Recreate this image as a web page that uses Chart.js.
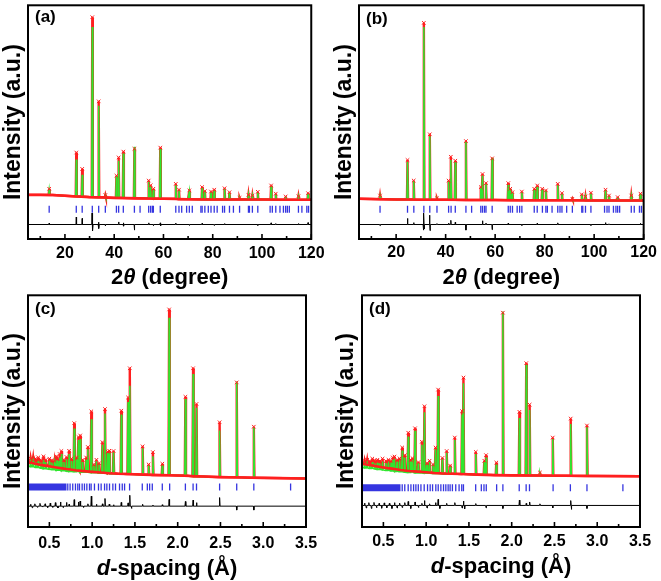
<!DOCTYPE html>
<html><head><meta charset="utf-8">
<script src="https://cdn.jsdelivr.net/npm/chart.js@4.4.1/dist/chart.umd.min.js"></script>
<style>
html,body{margin:0;padding:0;background:#fff;}
#wrap{position:relative;width:661px;height:581px;overflow:hidden;background:#fff;}
canvas{position:absolute;}
</style></head><body>
<div id="wrap">
<canvas id="ca" width="330" height="290" style="left:0px;top:0px"></canvas>
<canvas id="cb" width="331" height="290" style="left:330px;top:0px"></canvas>
<canvas id="cc" width="330" height="291" style="left:0px;top:290px"></canvas>
<canvas id="cd" width="331" height="291" style="left:330px;top:290px"></canvas>
</div>
<script>
// ---------- tick labels ----------
const abTickVals = [20, 40, 60, 80, 100, 120];
const abTickLabels = ['20', '40', '60', '80', '100', '120'];
const abMinor = [10, 30, 50, 70, 90, 110];
const cdTickVals = [0.5, 1.0, 1.5, 2.0, 2.5, 3.0, 3.5];
const cdTickLabels = ['0.5', '1.0', '1.5', '2.0', '2.5', '3.0', '3.5'];
const cdMinor = [0.75, 1.25, 1.75, 2.25, 2.75, 3.25];

// ---------- panel (a) ----------
const aBgX = [5, 10, 15, 20, 25, 30, 35, 40, 50, 60, 70, 80, 90, 100, 110, 120];
const aBgObs = [18.9, 18.9, 18.8, 18.5, 18.2, 17.9, 17.8, 17.6, 17.4, 17.2, 17.0, 16.9, 16.9, 16.9, 16.8, 16.8];
const aPeakPos = [13.6, 24.6, 27.0, 31.1, 33.7, 36.4, 40.9, 41.8, 43.7, 48.2, 54.0, 54.8, 55.9, 58.7, 65.0, 66.3, 70.5, 75.7, 76.8, 79.3, 80.6, 84.8, 86.8, 90.9, 94.5, 96.1, 98.3, 103.7, 105.6, 109.6, 114.8, 118.7];
const aObsTop = [21.5, 37.0, 30.0, 94.9, 58.9, 18.8, 27.1, 34.9, 37.4, 38.6, 25.0, 23.0, 21.5, 39.1, 23.6, 21.1, 20.8, 22.2, 20.5, 20.3, 21.1, 21.7, 20.0, 17.6, 18.9, 18.6, 20.2, 22.9, 19.4, 18.2, 18.3, 19.6];
const aCalcTop = [21.0, 34.0, 27.5, 90.7, 57.0, 18.6, 27.0, 33.5, 36.6, 39.5, 24.5, 22.5, 21.0, 38.5, 23.0, 20.8, 20.5, 21.8, 20.3, 20.0, 20.8, 21.4, 19.8, 17.5, 18.8, 18.5, 20.0, 22.5, 19.2, 18.1, 18.2, 19.4];
const aBragg = [13.6, 24.6, 27.0, 31.1, 33.7, 36.4, 40.9, 41.8, 43.7, 48.2, 50.5, 54.0, 54.8, 55.5, 55.9, 58.7, 65.0, 66.3, 67.4, 69.4, 70.5, 71.7, 75.2, 75.7, 76.8, 78.2, 79.3, 80.6, 81.8, 84.0, 84.8, 86.8, 88.4, 90.9, 94.5, 94.9, 96.1, 98.3, 103.3, 104.2, 105.6, 107.3, 108.7, 109.6, 110.3, 111.1, 114.8, 116.2, 118.2, 118.9];
const aBraggY = 12.7;
const aDiffBase = 6.2;
const aDiffPos = [13.6, 24.6, 27.0, 31.0, 31.3, 33.6, 33.8, 36.4, 41.8, 43.7, 43.9, 48.2, 54.0, 55.9, 58.7, 58.9, 65.0, 70.5, 75.7, 80.6, 84.8, 98.3, 103.7, 105.6, 114.8, 118.7];
const aDiffVal = [6.8, 9.4, 8.8, 11.1, 3.5, 7.2, 4.5, 5.6, 7.3, 6.9, 5.5, 3.8, 6.9, 5.7, 6.9, 5.6, 6.8, 5.8, 6.7, 5.8, 6.6, 5.8, 6.9, 6.6, 6.6, 7.0];

// ---------- panel (b) ----------
const bBgX = [5, 10, 15, 20, 25, 30, 35, 40, 50, 60, 70, 80, 90, 100, 110, 120];
const bBgObs = [17.2, 17.1, 17.0, 16.9, 16.9, 16.8, 16.8, 16.8, 16.7, 16.7, 16.6, 16.6, 16.6, 16.5, 16.5, 16.5];
const bPeakPos = [13.5, 24.6, 27.1, 31.2, 33.6, 36.5, 41.2, 42.1, 43.9, 48.2, 54.2, 54.9, 56.3, 58.8, 65.3, 66.1, 67.0, 70.8, 75.8, 77.0, 79.0, 80.5, 85.3, 87.0, 91.2, 95.0, 96.5, 98.7, 104.6, 106.0, 109.5, 115.0, 118.7];
const bObsTop = [18.6, 33.8, 25.0, 92.5, 44.8, 17.4, 25.0, 35.2, 33.5, 41.9, 22.2, 27.8, 23.9, 34.5, 23.9, 21.5, 20.0, 20.3, 21.5, 22.9, 21.5, 20.8, 23.6, 19.6, 17.2, 19.1, 18.2, 19.8, 21.1, 18.6, 17.9, 18.6, 19.4];
const bCalcTop = [18.4, 33.0, 24.8, 90.7, 44.0, 17.3, 24.6, 33.8, 32.8, 41.5, 22.0, 27.2, 23.5, 34.8, 23.2, 21.2, 19.8, 20.0, 21.0, 22.3, 21.2, 20.5, 23.0, 19.4, 17.1, 18.9, 18.0, 19.6, 20.8, 18.4, 17.8, 18.4, 19.2];
const bBragg = [13.5, 24.6, 27.15, 31.2, 33.6, 36.5, 41.2, 42.2, 43.9, 48.2, 50.5, 54.2, 54.9, 55.7, 56.3, 58.8, 65.3, 66.1, 67.0, 68.9, 69.9, 70.8, 75.8, 77.0, 79.1, 80.5, 81.1, 83.0, 85.3, 86.2, 87.0, 88.9, 91.2, 95.0, 95.4, 96.5, 98.7, 104.2, 105.2, 106.0, 107.8, 108.8, 109.5, 110.3, 115.0, 116.2, 118.3, 119.1];
const bBraggY = 12.7;
const bDiffBase = 6.2;
const bDiffPos = [13.5, 24.6, 27.1, 31.0, 31.2, 31.4, 33.5, 33.7, 36.5, 41.2, 42.1, 43.9, 48.2, 54.9, 56.3, 58.8, 65.3, 70.8, 77.0, 85.3, 98.7, 104.6, 106.0, 118.7];
const bDiffVal = [5.7, 8.8, 7.0, 3.8, 11.1, 4.3, 10.2, 3.6, 6.6, 6.8, 8.0, 7.2, 3.8, 7.8, 6.8, 4.0, 6.8, 5.8, 6.7, 6.9, 5.8, 7.0, 6.5, 6.7];

// ---------- panel (c) ----------
const cBgX = [0.25, 0.3, 0.35, 0.4, 0.45, 0.5, 0.55, 0.6, 0.65, 0.7, 0.75, 0.8, 0.9, 1.0, 1.1, 1.2, 1.3, 1.4, 1.6, 1.8, 2.0, 2.3, 2.6, 3.0, 3.5];
const cBgObs = [28.0, 27.6, 27.2, 26.8, 26.5, 26.2, 25.9, 25.6, 25.3, 25.0, 24.8, 24.5, 24.1, 23.8, 23.5, 23.2, 23.0, 22.9, 22.6, 22.4, 22.2, 21.8, 21.5, 21.2, 20.9];
const cBgCalc = [26.3, 26.0, 25.7, 25.4, 25.1, 24.9, 24.7, 24.5, 24.3, 24.1, 23.9, 23.8, 23.6, 23.4, 23.2, 23.0, 22.9, 22.8, 22.6, 22.4, 22.2, 21.8, 21.5, 21.2, 20.9];
const cPeakPos = [0.28, 0.31, 0.34, 0.37, 0.40, 0.43, 0.46, 0.50, 0.53, 0.56, 0.58, 0.60, 0.62, 0.64, 0.67, 0.70, 0.73, 0.76, 0.79, 0.82, 0.84, 0.86, 0.89, 0.93, 0.95, 0.99, 1.02, 1.05, 1.08, 1.12, 1.15, 1.18, 1.20, 1.25, 1.34, 1.42, 1.44, 1.59, 1.66, 1.71, 1.82, 1.90, 2.09, 2.18, 2.22, 2.49, 2.69, 2.89];
const cObsTop = [29.5, 30.0, 29.5, 30.0, 29.0, 30.5, 29.0, 29.5, 28.8, 28.5, 30.5, 29.5, 31.5, 32.8, 29.0, 30.2, 32.9, 29.5, 44.8, 30.0, 38.8, 39.5, 29.0, 30.0, 34.5, 49.9, 27.0, 29.0, 27.5, 36.6, 50.9, 32.5, 32.9, 32.8, 50.2, 55.9, 68.5, 34.8, 27.0, 32.3, 27.3, 93.9, 56.2, 68.5, 53.1, 45.2, 62.4, 43.3];
const cCalcTop = [28.0, 28.5, 28.0, 28.6, 27.8, 28.8, 28.0, 28.6, 27.8, 27.8, 29.0, 28.6, 30.0, 31.5, 28.0, 29.2, 31.5, 28.5, 42.5, 29.0, 37.5, 38.0, 28.0, 29.0, 33.5, 46.5, 26.5, 28.5, 27.0, 35.5, 49.0, 32.0, 32.0, 32.3, 48.5, 54.0, 61.0, 34.0, 26.5, 30.5, 26.5, 90.3, 55.2, 66.0, 51.5, 41.6, 62.8, 43.0];
const cBand = [0.25, 0.70];
const cBragg = [0.715, 0.742, 0.773, 0.805, 0.832, 0.852, 0.883, 0.910, 0.938, 0.969, 0.988, 1.027, 1.074, 1.105, 1.145, 1.172, 1.203, 1.242, 1.273, 1.32, 1.352, 1.379, 1.4375, 1.586, 1.645, 1.672, 1.703, 1.82, 1.906, 2.09, 2.18, 2.22, 2.49, 2.69, 2.89, 3.32];
const cBraggY = 17.3;
const cDiffBase = 9.0;
const cDiffPos = [0.28, 0.30, 0.33, 0.36, 0.39, 0.42, 0.45, 0.48, 0.51, 0.54, 0.57, 0.60, 0.63, 0.66, 0.70, 0.73, 0.79, 0.84, 0.86, 0.90, 0.95, 0.99, 1.05, 1.12, 1.15, 1.20, 1.25, 1.34, 1.42, 1.44, 1.46, 1.59, 1.71, 1.82, 1.90, 2.09, 2.18, 2.22, 2.49, 2.69, 2.89];
const cDiffVal = [9.8, 8.3, 10.0, 8.5, 10.2, 8.6, 10.0, 8.4, 10.3, 8.5, 10.5, 8.2, 10.8, 8.4, 10.6, 9.8, 11.8, 10.8, 11.2, 8.5, 10.0, 13.3, 9.8, 10.0, 12.3, 9.9, 9.6, 10.6, 10.4, 13.7, 8.0, 9.8, 9.5, 9.6, 11.9, 11.0, 11.6, 10.5, 12.7, 7.3, 7.3];

// ---------- panel (d) ----------
const dBgX = [0.25, 0.3, 0.35, 0.4, 0.45, 0.5, 0.55, 0.6, 0.65, 0.7, 0.75, 0.8, 0.9, 1.0, 1.1, 1.2, 1.3, 1.4, 1.6, 1.8, 2.0, 2.3, 2.6, 3.0, 3.5];
const dBgObs = [27.4, 27.0, 26.7, 26.3, 26.0, 25.7, 25.4, 25.2, 24.9, 24.6, 24.4, 24.2, 23.9, 23.6, 23.3, 23.1, 23.0, 22.9, 22.6, 22.4, 22.3, 22.2, 22.1, 22.0, 21.9];
const dBgCalc = [25.8, 25.5, 25.3, 25.0, 24.8, 24.6, 24.4, 24.2, 24.0, 23.8, 23.6, 23.5, 23.3, 23.2, 23.1, 23.0, 22.9, 22.8, 22.6, 22.4, 22.3, 22.2, 22.1, 22.0, 21.9];
const dPeakPos = [0.28, 0.31, 0.34, 0.37, 0.40, 0.43, 0.46, 0.49, 0.53, 0.56, 0.59, 0.61, 0.63, 0.66, 0.69, 0.72, 0.75, 0.79, 0.82, 0.84, 0.87, 0.91, 0.95, 0.98, 1.01, 1.04, 1.08, 1.11, 1.14, 1.19, 1.24, 1.28, 1.335, 1.42, 1.436, 1.58, 1.68, 1.70, 1.82, 1.897, 2.09, 2.17, 2.21, 2.33, 2.48, 2.69, 2.88];
const dObsTop = [28.5, 29.0, 28.5, 29.5, 28.8, 29.0, 28.5, 29.5, 28.5, 29.0, 28.6, 30.0, 30.4, 29.0, 29.6, 34.3, 31.0, 40.7, 29.0, 29.7, 42.6, 28.0, 36.8, 52.1, 27.5, 28.6, 27.0, 34.3, 59.3, 29.8, 32.8, 26.5, 38.6, 50.0, 64.5, 32.4, 28.6, 31.0, 27.8, 92.5, 49.7, 70.7, 52.8, 23.5, 38.6, 46.8, 43.8];
const dCalcTop = [27.0, 27.5, 27.2, 28.0, 27.5, 27.8, 27.5, 28.3, 27.6, 28.2, 27.8, 29.0, 29.5, 28.2, 28.8, 33.0, 30.0, 39.0, 28.3, 29.0, 41.5, 27.5, 35.5, 49.5, 27.0, 28.0, 26.6, 33.5, 56.5, 29.2, 32.0, 26.2, 37.5, 48.5, 62.0, 31.5, 28.0, 30.0, 27.0, 93.0, 47.0, 70.0, 50.5, 23.3, 38.0, 44.5, 43.0];
const dBand = [0.25, 0.70];
const dBragg = [0.72, 0.75, 0.79, 0.822, 0.853, 0.880, 0.908, 0.939, 0.977, 1.016, 1.047, 1.075, 1.113, 1.141, 1.172, 1.203, 1.230, 1.257, 1.280, 1.307, 1.346, 1.385, 1.416, 1.436, 1.579, 1.645, 1.676, 1.703, 1.824, 1.897, 2.088, 2.169, 2.208, 2.484, 2.686, 2.880, 3.30];
const dBraggY = 16.9;
const dDiffBase = 9.3;
const dDiffPos = [0.28, 0.30, 0.33, 0.36, 0.39, 0.42, 0.45, 0.48, 0.51, 0.54, 0.57, 0.60, 0.63, 0.66, 0.69, 0.72, 0.75, 0.79, 0.82, 0.87, 0.91, 0.95, 0.98, 1.01, 1.04, 1.11, 1.14, 1.16, 1.24, 1.335, 1.42, 1.436, 1.45, 1.58, 1.70, 1.897, 2.09, 2.17, 2.21, 2.33, 2.48, 2.69, 2.70, 2.88];
const dDiffVal = [10.3, 8.2, 10.5, 8.0, 10.6, 8.3, 10.2, 8.1, 10.4, 8.3, 10.2, 8.0, 10.5, 8.2, 10.3, 8.4, 10.5, 11.0, 8.0, 10.8, 8.4, 10.2, 11.4, 8.2, 10.0, 10.5, 11.9, 8.0, 10.2, 10.5, 8.2, 11.2, 7.8, 10.1, 8.3, 8.0, 11.6, 10.2, 10.8, 10.0, 8.2, 11.4, 7.6, 8.0];

// ---------- drawing ----------
Chart.defaults.font.family = '"Liberation Sans", Arial, sans-serif';
Chart.defaults.color = '#000';
const RED = '#ff1f1f', GREEN = '#2fe62f', BLUE = '#3535e0', BLACK = '#000000';
const FAM = '"Liberation Sans", Arial, sans-serif';

function nearestBg(bx, by, x) {
  let k = 0;
  for (let i = 1; i < bx.length; i++) if (Math.abs(bx[i] - x) < Math.abs(bx[k] - x)) k = i;
  return by[k];
}
function profile(bx, by, pos, top, w) {
  const pts = [];
  bx.forEach((x, i) => { if (!pos.some(p => Math.abs(p - x) <= w)) pts.push({x: x, y: by[i]}); });
  pos.forEach((p, i) => {
    const b = nearestBg(bx, by, p);
    pts.push({x: p - w, y: b}, {x: p, y: top[i]}, {x: p + w, y: b});
  });
  return pts.sort((a, b) => a.x - b.x);
}
function diffLine(base, xmin, xmax, pos, val, w) {
  const pts = [{x: xmin, y: base}];
  pos.forEach((p, i) => pts.push({x: p - w, y: base}, {x: p, y: val[i]}, {x: p + w, y: base}));
  pts.push({x: xmax, y: base});
  return pts.sort((a, b) => a.x - b.x);
}

const decor = {
  id: 'decor',
  afterDraw(chart, args, o) {
    const {ctx, chartArea: a} = chart;
    const x = chart.scales.x;
    ctx.save();
    ctx.strokeStyle = '#000';
    ctx.lineWidth = 1.6;
    o.major.forEach(v => { const px = x.getPixelForValue(v); ctx.beginPath(); ctx.moveTo(px, a.bottom); ctx.lineTo(px, a.bottom - 5); ctx.stroke(); });
    o.minor.forEach(v => { const px = x.getPixelForValue(v); ctx.beginPath(); ctx.moveTo(px, a.bottom); ctx.lineTo(px, a.bottom - 3); ctx.stroke(); });
    ctx.lineWidth = 2;
    ctx.strokeRect(a.left, a.top, a.right - a.left, a.bottom - a.top);
    ctx.fillStyle = '#000';
    ctx.textBaseline = 'top';
    ctx.textAlign = 'left';
    ctx.font = 'bold 17px ' + FAM;
    ctx.fillText(o.label, a.left + 7, a.top + o.labelDy);
    // x-axis title with mixed styles
    ctx.textBaseline = 'middle';
    let total = 0;
    o.title.forEach(p => { ctx.font = p[1] + ' 22px ' + FAM; total += ctx.measureText(p[0]).width; });
    let cx = (a.left + a.right) / 2 - total / 2;
    const cy = chart.height - o.titleOff;
    o.title.forEach(p => { ctx.font = p[1] + ' 22px ' + FAM; ctx.fillText(p[0], cx, cy); cx += ctx.measureText(p[0]).width; });
    ctx.restore();
  }
};

function makePanel(c) {
  const w = c.w;
  const obsFull = profile(c.bgX, c.bgObs, c.peakPos, c.obsTop, w);
  const calc = profile(c.bgX, c.bgCalc, c.peakPos, c.calcTop, w);
  const obsBase = c.bgX.map((x, i) => ({x: x, y: c.bgObs[i]}));
  const marks = c.peakPos.map((x, i) => ({x: x, y: c.obsTop[i]}));
  const bragg = c.bragg.map(x => ({x: x, y: c.braggY}));
  const diff = diffLine(c.diffBase, c.xmin, c.xmax, c.diffPos, c.diffVal, c.dw);
  const datasets = [
    {label: 'Difference', data: diff, showLine: true, borderColor: BLACK, borderWidth: 1, pointRadius: 0, order: 1},
    {label: 'Bragg', data: bragg, showLine: false, pointStyle: 'line', pointRotation: 90, pointRadius: 3.5, pointBorderColor: BLUE, borderColor: BLUE, pointBorderWidth: 1.3, order: 2},
    {label: 'Obs', data: marks, showLine: false, pointStyle: 'crossRot', pointRadius: 2.5, pointBorderColor: RED, borderColor: RED, pointBorderWidth: 1, order: 3},
    {label: 'ObsBase', data: obsBase, showLine: true, borderColor: RED, borderWidth: 2.6, pointRadius: 0, order: 4},
    {label: 'Calc', data: calc, showLine: true, borderColor: GREEN, borderWidth: 1.5, pointRadius: 0, order: 5},
    {label: 'ObsFull', data: obsFull, showLine: true, borderColor: RED, borderWidth: 2.4, pointRadius: 0, order: 6}
  ];
  if (c.band) datasets.push({label: 'BraggBand', data: [{x: c.band[0], y: c.braggY}, {x: c.band[1], y: c.braggY}], showLine: true, borderColor: BLUE, borderWidth: 7, borderCapStyle: 'butt', pointRadius: 0, order: 2});
  new Chart(document.getElementById(c.id), {
    type: 'scatter',
    data: {datasets: datasets},
    options: {
      responsive: false, animation: false, devicePixelRatio: 1, events: [],
      layout: {padding: {left: 0, right: c.cw - c.area.r, top: c.area.t, bottom: 0}},
      plugins: {
        legend: {display: false}, tooltip: {enabled: false},
        decor: {major: c.tickVals, minor: c.minor, label: c.label, labelDy: c.labelDy, title: c.title, titleOff: c.titleOff}
      },
      scales: {
        x: {
          type: 'linear', min: c.xmin, max: c.xmax,
          grid: {display: false, drawTicks: false}, border: {display: false},
          ticks: {font: {size: 16, weight: 'bold'}, color: '#000', padding: c.tickPad, maxRotation: 0, autoSkip: false,
                  callback: (v, i) => c.tickLabels[i]},
          afterBuildTicks: s => { s.ticks = c.tickVals.map(v => ({value: v})); },
          afterFit: s => { s.height = c.ch - c.area.b; }
        },
        y: {
          type: 'linear', min: 0, max: 100,
          grid: {display: false, drawTicks: false}, border: {display: false}, ticks: {display: false},
          title: {display: true, text: 'Intensity (a.u.)', color: '#000', font: {size: 23, weight: 'bold', lineHeight: 1}, padding: {top: c.ytp, bottom: 0}},
          afterFit: s => { s.width = c.area.l; }
        }
      }
    },
    plugins: [decor]
  });
}

const thetaTitle = [['2', 'bold'], ['θ', 'italic bold'], [' (degree)', 'bold']];
const dTitle = [['d', 'italic bold'], ['-spacing (Å)', 'bold']];

makePanel({id: 'ca', cw: 330, ch: 290, area: {l: 28, r: 312, t: 3, b: 239}, xmin: 5, xmax: 120, w: 0.22, dw: 0.12,
  bgX: aBgX, bgObs: aBgObs, bgCalc: aBgObs, peakPos: aPeakPos, obsTop: aObsTop, calcTop: aCalcTop,
  bragg: aBragg, braggY: aBraggY, diffBase: aDiffBase, diffPos: aDiffPos, diffVal: aDiffVal,
  tickVals: abTickVals, tickLabels: abTickLabels, minor: abMinor, label: '(a)', labelDy: 4, title: thetaTitle, titleOff: 12, ytp: 1.8, tickPad: 5.4});
makePanel({id: 'cb', cw: 331, ch: 290, area: {l: 29, r: 314, t: 2, b: 239}, xmin: 5, xmax: 120, w: 0.22, dw: 0.12,
  bgX: bBgX, bgObs: bBgObs, bgCalc: bBgObs, peakPos: bPeakPos, obsTop: bObsTop, calcTop: bCalcTop,
  bragg: bBragg, braggY: bBraggY, diffBase: bDiffBase, diffPos: bDiffPos, diffVal: bDiffVal,
  tickVals: abTickVals, tickLabels: abTickLabels, minor: abMinor, label: '(b)', labelDy: 6, title: thetaTitle, titleOff: 12, ytp: 3.5, tickPad: 4});
makePanel({id: 'cc', cw: 330, ch: 291, area: {l: 28, r: 306, t: 4, b: 237}, xmin: 0.25, xmax: 3.5, w: 0.007, dw: 0.005,
  bgX: cBgX, bgObs: cBgObs, bgCalc: cBgCalc, peakPos: cPeakPos, obsTop: cObsTop, calcTop: cCalcTop,
  bragg: cBragg, braggY: cBraggY, band: cBand, diffBase: cDiffBase, diffPos: cDiffPos, diffVal: cDiffVal,
  tickVals: cdTickVals, tickLabels: cdTickLabels, minor: cdMinor, label: '(c)', labelDy: 6, title: dTitle, titleOff: 12.5, ytp: 2.5, tickPad: 7.4});
makePanel({id: 'cd', cw: 331, ch: 291, area: {l: 32, r: 310, t: 3, b: 237}, xmin: 0.25, xmax: 3.5, w: 0.007, dw: 0.005,
  bgX: dBgX, bgObs: dBgObs, bgCalc: dBgCalc, peakPos: dPeakPos, obsTop: dObsTop, calcTop: dCalcTop,
  bragg: dBragg, braggY: dBraggY, band: dBand, diffBase: dDiffBase, diffPos: dDiffPos, diffVal: dDiffVal,
  tickVals: cdTickVals, tickLabels: cdTickLabels, minor: cdMinor, label: '(d)', labelDy: 6, title: dTitle, titleOff: 14, ytp: 5.2, tickPad: 5});
</script>
</body></html>
